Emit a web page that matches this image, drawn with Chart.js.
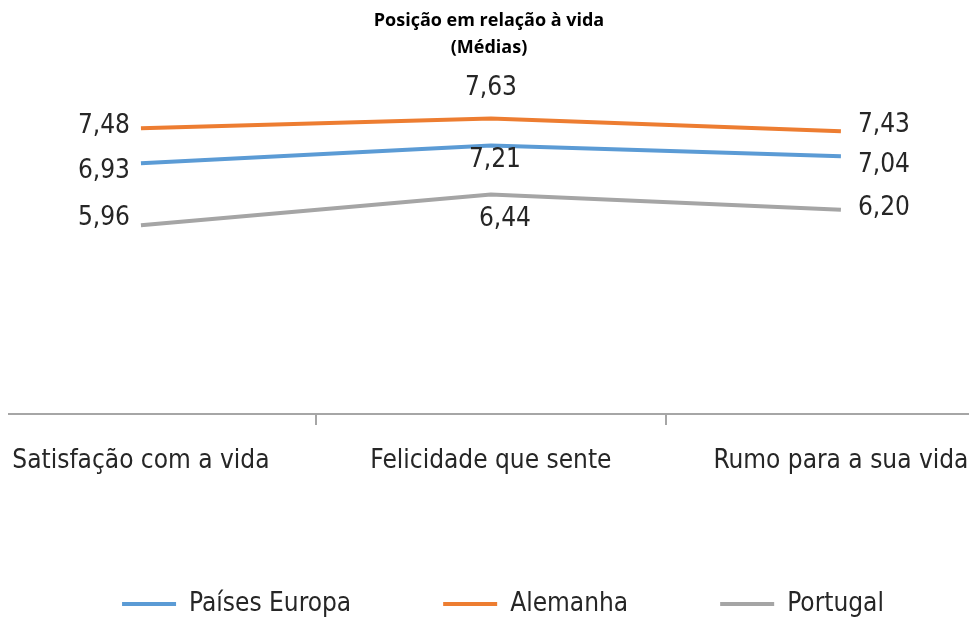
<!DOCTYPE html>
<html>
<head>
<meta charset="utf-8">
<script src="https://cdn.jsdelivr.net/npm/chart.js@4.4.1/dist/chart.umd.min.js"></script>
<style>
  html, body { margin: 0; padding: 0; background: #ffffff; }
  #wrap { width: 969px; height: 621px; }
</style>
</head>
<body>
<div id="wrap"><canvas id="c" width="969" height="621"></canvas></div>
<script>
const categories = ['Satisfação com a vida', 'Felicidade que sente', 'Rumo para a sua vida'];
const seriesNames = ['Países Europa', 'Alemanha', 'Portugal'];
const paisesEuropa = [6.93, 7.21, 7.04];
const alemanha = [7.48, 7.63, 7.43];
const portugal = [5.96, 6.44, 6.20];
const seriesColors = ['#5B9BD5', '#ED7D31', '#A5A5A5'];

const NARROW = "'Liberation Sans Narrow', 'DejaVu Sans Condensed', 'Open Sans', sans-serif";

const toPoints = vals => vals.map((v, i) => ({ x: i, y: v }));

const valueLabels = {
  id: 'valueLabels',
  afterDatasetsDraw(chart, args, opts) {
    const ctx = chart.ctx;
    ctx.save();
    ctx.font = opts.font;
    ctx.fillStyle = opts.color;
    ctx.textBaseline = 'middle';
    chart.data.datasets.forEach((ds, di) => {
      const meta = chart.getDatasetMeta(di);
      meta.data.forEach((pt, i) => {
        const p = opts.placement[di][i];
        ctx.textAlign = p[0];
        const txt = ds.data[i].y.toFixed(2).replace('.', ',');
        ctx.fillText(txt, pt.x + p[1], pt.y + p[2]);
      });
    });
    ctx.restore();
  }
};

const legendShift = {
  id: 'legendShift',
  afterLayout(chart, args, opts) {
    if (chart.legend) {
      chart.legend.left += opts.dx;
      chart.legend.right += opts.dx;
    }
  }
};

const ds = (name, vals, color) => ({
  label: name,
  data: toPoints(vals),
  borderColor: color,
  backgroundColor: color,
  borderWidth: 4
});

new Chart(document.getElementById('c'), {
  type: 'line',
  data: {
    datasets: [
      ds(seriesNames[0], paisesEuropa, seriesColors[0]),
      ds(seriesNames[1], alemanha, seriesColors[1]),
      ds(seriesNames[2], portugal, seriesColors[2])
    ]
  },
  options: {
    responsive: false,
    animation: false,
    layout: { padding: { left: 9, right: 0, top: 0, bottom: -6 } },
    elements: {
      line: { borderWidth: 4, tension: 0, borderCapStyle: 'butt' },
      point: { radius: 0, hoverRadius: 0 }
    },
    scales: {
      x: {
        type: 'linear',
        min: -0.377,
        max: 2.366,
        offset: false,
        afterBuildTicks: axis => {
          axis.ticks = [0, 0.5, 1, 1.5, 2].map(v => ({ value: v }));
        },
        afterFit: axis => {
          axis.height = 85;
          axis.paddingLeft = 0;
          axis.paddingRight = 0;
        },
        ticks: {
          autoSkip: false,
          maxRotation: 0,
          minRotation: 0,
          padding: 21,
          color: '#262626',
          font: { family: NARROW, size: 26 },
          callback: v => Number.isInteger(v) ? categories[v] : ''
        },
        grid: {
          drawOnChartArea: false,
          drawTicks: true,
          tickLength: 11,
          lineWidth: 2,
          color: ctx => (ctx.tick && Number.isInteger(ctx.tick.value)) ? 'rgba(0,0,0,0)' : '#A6A6A6'
        },
        border: { display: true, color: '#A6A6A6', width: 2 }
      },
      y: {
        display: false,
        min: 3,
        max: 8
      }
    },
    plugins: {
      title: {
        display: true,
        text: ['Posição em relação à vida', '(Médias)'],
        color: '#000000',
        font: { family: "'Open Sans', 'Liberation Sans', sans-serif", size: 18, weight: 'bold', lineHeight: 1.5 },
        padding: { top: 7, bottom: 34 }
      },
      legend: {
        display: true,
        position: 'bottom',
        labels: {
          usePointStyle: true,
          pointStyle: 'line',
          pointStyleWidth: 54,
          padding: 92,
          color: '#262626',
          font: { family: NARROW, size: 26 }
        }
      },
      legendShift: { dx: 14 },
      tooltip: { enabled: false },
      valueLabels: {
        font: "26px " + NARROW,
        color: '#262626',
        placement: [
          [['right', -11, 8], ['center', 4, 15], ['left', 17, 9]],
          [['right', -11, -2], ['center', 0, -30], ['left', 17, -6]],
          [['right', -11, -7], ['center', 14, 25], ['left', 17, -2]]
        ]
      }
    }
  },
  plugins: [valueLabels, legendShift]
});
</script>
</body>
</html>
